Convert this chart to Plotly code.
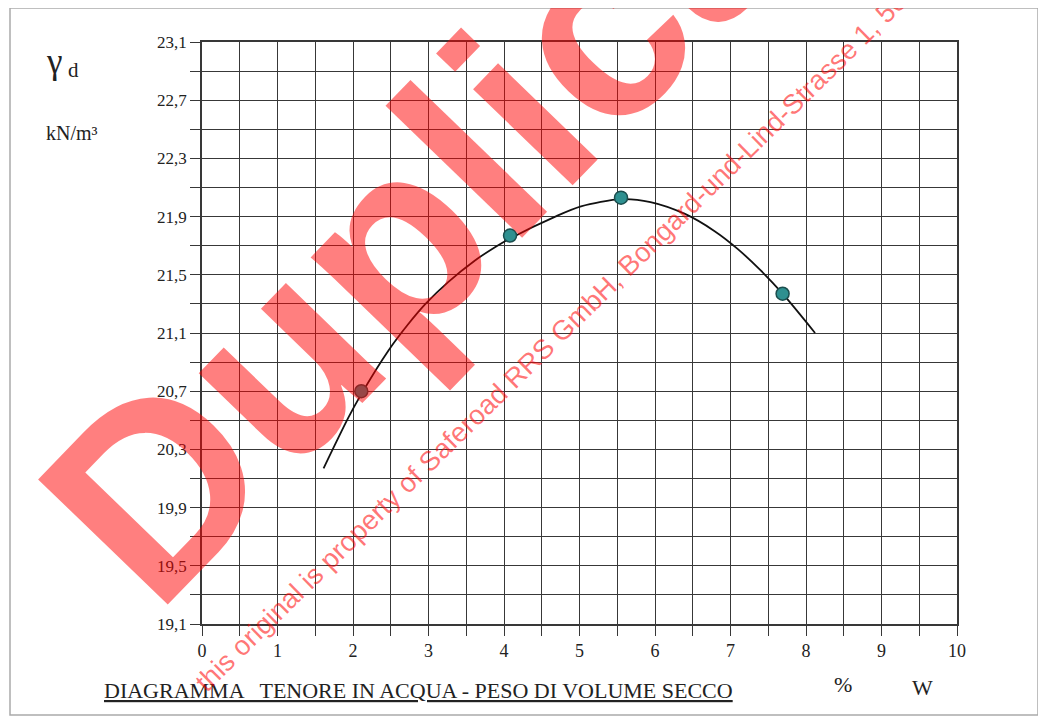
import plotly.graph_objects as go

# Measured points (water content %, dry unit weight kN/m3)
w_points = [2.11, 4.08, 5.55, 7.69]
gd_points = [20.70, 21.77, 22.03, 21.37]

# Fitted curve
w_curve = [1.61, 1.94, 2.11, 2.47, 2.73, 2.96, 3.26, 3.62, 3.88, 4.08,
           4.68, 5.02, 5.55, 5.94, 6.39, 6.79, 7.09, 7.40, 7.69, 8.12]
gd_curve = [20.17, 20.52, 20.68, 20.98, 21.16, 21.30, 21.45, 21.60, 21.69, 21.75,
            21.90, 21.97, 22.02, 22.00, 21.92, 21.80, 21.68, 21.53, 21.37, 21.10]

x_ticks = [0, 1, 2, 3, 4, 5, 6, 7, 8, 9, 10]
x_labels = ["0", "1", "2", "3", "4", "5", "6", "7", "8", "9", "10"]
y_ticks = [19.1, 19.5, 19.9, 20.3, 20.7, 21.1, 21.5, 21.9, 22.3, 22.7, 23.1]
y_labels = ["19,1", "19,5", "19,9", "20,3", "20,7", "21,1", "21,5", "21,9", "22,3", "22,7", "23,1"]

SERIF = "Liberation Serif"
GRID = "#383838"

fig = go.Figure()
fig.add_trace(go.Scatter(x=w_curve, y=gd_curve, mode="lines",
                         line=dict(color="#111111", width=1.8, shape="spline", smoothing=0.8),
                         hoverinfo="skip", showlegend=False))
fig.add_trace(go.Scatter(x=w_points, y=gd_points, mode="markers",
                         marker=dict(size=13, color="#2e9090",
                                     line=dict(color="#1b4e4e", width=1.5)),
                         showlegend=False))

fig.update_xaxes(range=[0, 10], tickvals=x_ticks, ticktext=x_labels,
                 ticks="outside", ticklen=10, tickwidth=1.3, tickcolor=GRID,
                 showgrid=True, gridcolor=GRID, gridwidth=1.3,
                 minor=dict(dtick=0.5, tick0=0, ticks="outside", ticklen=10,
                            tickwidth=1.3, tickcolor=GRID, showgrid=True,
                            gridcolor=GRID, gridwidth=1.3),
                 showline=True, mirror=True, linecolor=GRID, linewidth=1.5,
                 zeroline=False, tickfont=dict(family=SERIF, size=18, color="#222"))
fig.update_yaxes(range=[19.1, 23.1], tickvals=y_ticks, ticktext=y_labels,
                 ticks="outside", ticklen=10, tickwidth=1.3, tickcolor=GRID,
                 showgrid=True, gridcolor=GRID, gridwidth=1.3,
                 minor=dict(dtick=0.2, tick0=19.1, ticks="outside", ticklen=10,
                            tickwidth=1.3, tickcolor=GRID, showgrid=True,
                            gridcolor=GRID, gridwidth=1.3),
                 showline=True, mirror=True, linecolor=GRID, linewidth=1.5,
                 zeroline=False, tickfont=dict(family=SERIF, size=17, color="#222"))

# page body has an 8px margin; positions below are in screen pixels
def px_x(p):
    return (p - 202) / 755.0

def px_y(p):
    return (624 - p) / 582.0

annos = [
    dict(text="γ", x=px_x(54), y=px_y(62), font=dict(family=SERIF, size=35, color="#222")),
    dict(text="d", x=px_x(73), y=px_y(70), font=dict(family=SERIF, size=21, color="#222")),
    dict(text="kN/m³", x=px_x(72), y=px_y(133), font=dict(family=SERIF, size=20, color="#222")),
    dict(text="<u>DIAGRAMMA   TENORE IN ACQUA - PESO DI VOLUME SECCO</u>",
         x=px_x(418), y=px_y(690), font=dict(family=SERIF, size=22, color="#222")),
    dict(text="%", x=px_x(843), y=px_y(684), font=dict(family=SERIF, size=22, color="#222")),
    dict(text="W", x=px_x(922), y=px_y(687), font=dict(family=SERIF, size=22, color="#222")),
    # watermark
    dict(text="Duplicate", x=px_x(500), y=px_y(131), textangle=-46,
         font=dict(family="Liberation Sans", size=262, weight="bold",
                   color="rgba(255,0,0,0.5)")),
    dict(text="this original is property of Saferoad RRS GmbH, Bongard-und-Lind-Strasse 1, 50",
         x=px_x(551), y=px_y(342), textangle=-44.5,
         font=dict(family="Liberation Sans", size=27.5, color="rgba(255,0,0,0.55)")),
]
for a in annos:
    a.update(xref="paper", yref="paper", showarrow=False, xanchor="center", yanchor="middle")

fig.update_layout(
    width=1038, height=715,
    margin=dict(l=194, r=89, t=34, b=99),
    paper_bgcolor="white", plot_bgcolor="white",
    annotations=annos,
    shapes=[dict(type="rect", xref="paper", yref="paper",
                 x0=px_x(10), x1=px_x(1038), y0=px_y(715), y1=px_y(8),
                 line=dict(color="#aaaaaa", width=1.5), layer="below")],
    showlegend=False,
)

fig.write_html("out.html")
